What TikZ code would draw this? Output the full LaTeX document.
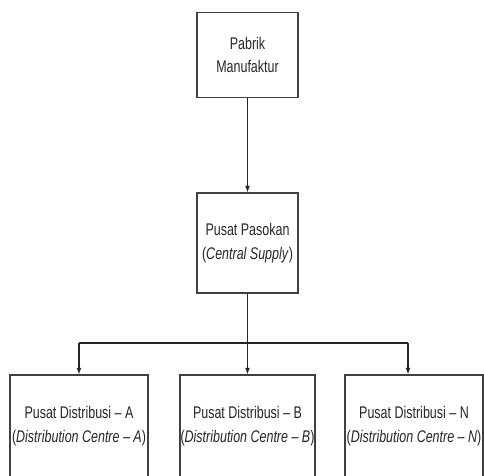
\documentclass[tikz,border=0pt]{standalone}
\usepackage{fontspec}
\setmainfont{Liberation Sans}[FakeStretch=0.74]
\usetikzlibrary{arrows.meta}

\begin{document}
\begin{tikzpicture}[x=0.025cm,y=-0.025cm,
    box/.style={draw=black!75,line width=0.9pt,align=center,inner sep=0pt,
      text=black!85,font=\fontsize{12}{17}\selectfont},
    link/.style={draw=black!85,line width=0.8pt},
    arr/.style={link,-{Latex[length=1.6mm,width=1.2mm]}}]
    \useasboundingbox (0,0) rectangle (484,475);
    % Boxes
    \node[box,minimum width=2.525cm,minimum height=2.125cm] (pabrik) at (247.5,55)
        {Pabrik\\Manufaktur};
    \node[box,minimum width=2.525cm,minimum height=2.5cm] (pusat) at (247.5,243)
        {Pusat Pasokan\\(\textit{Central Supply})};
    \node[box,minimum width=3.45cm,minimum height=2.575cm] (distA) at (79,426.5)
        {Pusat Distribusi -- A\\(\textit{Distribution Centre -- A})};
    \node[box,minimum width=3.375cm,minimum height=2.575cm] (distB) at (247.5,426.5)
        {Pusat Distribusi -- B\\(\textit{Distribution Centre -- B})};
    \node[box,minimum width=3.45cm,minimum height=2.575cm] (distN) at (414,426.5)
        {Pusat Distribusi -- N\\(\textit{Distribution Centre -- N})};
    % Connectors
    \coordinate (split) at (247.5,343);
    \coordinate (splitA) at (79,343);
    \coordinate (splitN) at (408,343);
    \draw[arr] (pabrik) -- (pusat);
    \draw[link] (pusat) -- (split);
    \draw[link] (splitA) -- (splitN);
    \draw[arr] (splitA) -- (distA.north);
    \draw[arr] (split) -- (distB);
    \draw[arr] (splitN) -- (splitN |- distN.north);
\end{tikzpicture}
\end{document}
